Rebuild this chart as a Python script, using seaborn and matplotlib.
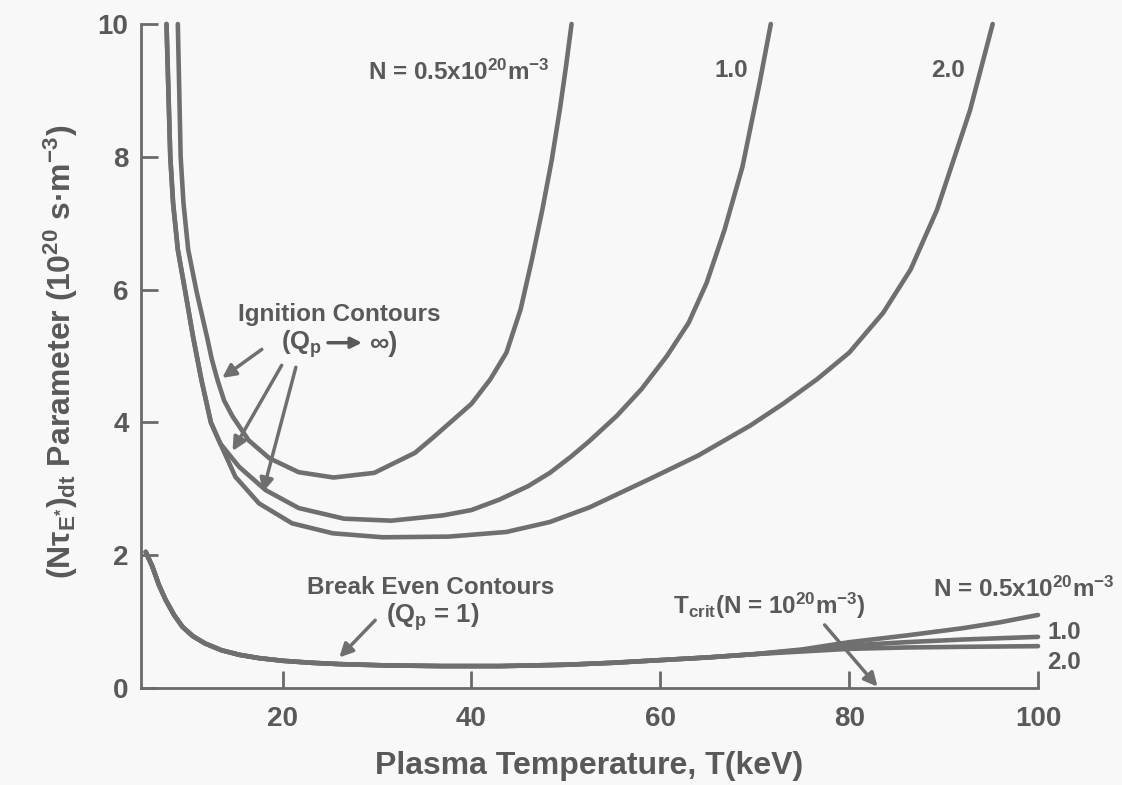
import matplotlib
matplotlib.use("Agg")
import matplotlib.pyplot as plt
import seaborn as sns
import pandas as pd

# ---------------- data ----------------
# Ignition contours, N = 0.5e20 m^-3
ign05_T = [8.9, 9.05, 9.2, 9.5, 10.0, 10.9, 12.0, 12.5, 13.1, 13.8, 14.7, 16.4,
           18.6, 21.7, 25.4, 29.7, 34.0, 36.0, 38.0, 40.0, 42.0, 43.7, 45.2,
           46.4, 47.5, 48.5, 49.4, 50.0, 50.6]
ign05_Y = [10.0, 9.0, 8.0, 7.3, 6.6, 5.96, 5.28, 4.95, 4.64, 4.33, 4.09, 3.73,
           3.46, 3.25, 3.17, 3.24, 3.54, 3.78, 4.03, 4.28, 4.65, 5.05, 5.7,
           6.45, 7.2, 7.95, 8.75, 9.35, 10.0]
# Ignition contours, N = 1.0e20 m^-3
ign10_T = [7.7, 7.9, 8.1, 8.4, 8.9, 9.7, 10.5, 11.4, 12.4, 13.4, 15.4, 18.2,
           21.7, 26.5, 31.5, 37.0, 40.0, 43.0, 46.0, 48.3, 50.5, 52.5, 55.4,
           58.0, 60.7, 63.0, 64.9, 66.8, 68.7, 70.5, 71.7]
ign10_Y = [10.0, 9.0, 8.0, 7.3, 6.6, 5.96, 5.3, 4.64, 4.0, 3.68, 3.33, 2.98,
           2.71, 2.55, 2.52, 2.6, 2.68, 2.84, 3.04, 3.24, 3.48, 3.72, 4.1,
           4.5, 5.0, 5.5, 6.1, 6.9, 7.85, 9.1, 10.0]
# Ignition contours, N = 2.0e20 m^-3
ign20_T = [7.7, 7.9, 8.1, 8.4, 8.9, 9.7, 10.5, 11.4, 12.4, 13.4, 15.0, 17.5,
           21.0, 25.3, 30.6, 37.6, 43.7, 48.3, 52.5, 58.9, 64.0, 69.5, 73.0,
           76.6, 80.0, 83.6, 86.5, 89.3, 92.8, 95.2]
ign20_Y = [10.0, 9.0, 8.0, 7.3, 6.6, 5.96, 5.3, 4.64, 4.0, 3.68, 3.18, 2.78,
           2.48, 2.33, 2.27, 2.28, 2.35, 2.5, 2.72, 3.15, 3.5, 3.95, 4.28,
           4.65, 5.05, 5.65, 6.3, 7.2, 8.7, 10.0]
# Break-even contours (Qp = 1)
be_common_T = [5.5, 6.2, 6.9, 7.6, 8.5, 9.4, 10.5, 11.8, 13.5, 15.4, 17.5, 20.0,
               23.0, 26.0, 31.0, 37.0, 43.0, 50.0, 55.0, 60.0, 65.0, 70.0]
be_common_Y = [2.05, 1.83, 1.55, 1.33, 1.1, 0.92, 0.78, 0.67, 0.57, 0.5, 0.45, 0.41,
               0.38, 0.36, 0.34, 0.33, 0.33, 0.35, 0.38, 0.42, 0.46, 0.51]
be05_T = be_common_T + [75.0, 80.0, 86.0, 92.0, 96.0, 100.0]
be05_Y = be_common_Y + [0.58, 0.69, 0.79, 0.9, 0.99, 1.1]
be10_T = be_common_T + [75.0, 80.0, 86.0, 92.0, 100.0]
be10_Y = be_common_Y + [0.57, 0.64, 0.69, 0.73, 0.77]
be20_T = be_common_T + [75.0, 80.0, 86.0, 92.0, 100.0]
be20_Y = be_common_Y + [0.55, 0.59, 0.61, 0.62, 0.63]

x_ticks = [20, 40, 60, 80, 100]
y_ticks = [0, 2, 4, 6, 8, 10]

# ---------------- style ----------------
sns.set_theme(style="ticks")
plt.rcParams["font.family"] = ["Liberation Sans", "DejaVu Sans"]
plt.rcParams["font.weight"] = "bold"
plt.rcParams["mathtext.fontset"] = "custom"
plt.rcParams["mathtext.rm"] = "Liberation Sans:bold"
plt.rcParams["mathtext.bf"] = "Liberation Sans:bold"
plt.rcParams["mathtext.it"] = "Liberation Sans:bold"
plt.rcParams["mathtext.default"] = "rm"

LINE = "#6f6f6f"
TEXT = "#595959"
AX = "#6a6a6a"
BG = "#f8f8f8"

fig = plt.figure(figsize=(11.22, 7.85), dpi=100, facecolor=BG)
ax = fig.add_axes([141 / 1122, 1 - 688 / 785, 897 / 1122, 664 / 785])
ax.set_facecolor(BG)

curves = [(ign05_T, ign05_Y), (ign10_T, ign10_Y), (ign20_T, ign20_Y),
          (be05_T, be05_Y), (be10_T, be10_Y), (be20_T, be20_Y)]
for T, Y in curves:
    df = pd.DataFrame({"T": T, "Y": Y})
    sns.lineplot(data=df, x="T", y="Y", ax=ax, color=LINE, lw=3.3,
                 sort=False, estimator=None, clip_on=False,
                 solid_capstyle="round", solid_joinstyle="round")

ax.set_xlim(5, 100)
ax.set_ylim(0, 10)
ax.set_xticks(x_ticks)
ax.set_yticks(y_ticks)
ax.set_xticklabels([str(v) for v in x_ticks])
ax.set_yticklabels([str(v) for v in y_ticks])
ax.tick_params(direction="in", length=12, width=2, color=AX,
               labelsize=20, labelcolor=TEXT)
ax.tick_params(axis="x", pad=13)
ax.tick_params(axis="y", pad=9)
for s in ["top", "right"]:
    ax.spines[s].set_visible(False)
for s in ["left", "bottom"]:
    ax.spines[s].set_color(AX)
    ax.spines[s].set_linewidth(2)

ax.set_xlabel("Plasma Temperature, T(keV)", fontsize=23, color=TEXT,
              fontweight="bold")
ax.xaxis.set_label_coords(0.5, -0.095)
ax.set_ylabel("")
fig.text(61 / 1122, 1 - 352 / 785,
         r"(Nτ$_{E^{*}}$)$_{dt}$ Parameter (10$^{20}$ s·m$^{-3}$)",
         rotation=90, ha="center", va="center", fontsize=23, color=TEXT,
         fontweight="bold")

fs = 17.5
ax.text(29.0, 9.28, r"N = 0.5x10$^{20}$m$^{-3}$", fontsize=fs, color=TEXT,
        ha="left", va="center")
ax.text(67.5, 9.3, "1.0", fontsize=fs, color=TEXT, ha="center", va="center")
ax.text(90.5, 9.3, "2.0", fontsize=fs, color=TEXT, ha="center", va="center")

ax.text(26.0, 5.62, "Ignition Contours", fontsize=fs, color=TEXT,
        ha="center", va="center")
# "(Qp ⟶ ∞)" built from two texts and a drawn arrow
ax.text(24.2, 5.18, r"(Q$_{p}$", fontsize=fs + 1, color=TEXT,
        ha="right", va="center")
ax.annotate("", xy=(28.4, 5.2), xytext=(24.8, 5.2),
            arrowprops=dict(arrowstyle="-|>", color=TEXT, lw=2.5,
                            mutation_scale=16, shrinkA=0, shrinkB=0))
ax.text(29.2, 5.18, "∞)", fontsize=fs + 2, color=TEXT,
        ha="left", va="center")

ax.text(35.7, 1.51, "Break Even Contours", fontsize=fs, color=TEXT,
        ha="center", va="center")
ax.text(35.9, 1.07, r"(Q$_{p}$ = 1)", fontsize=fs + 1, color=TEXT,
        ha="center", va="center")

ax.text(71.6, 1.23, r"T$_{crit}$(N = 10$^{20}$m$^{-3}$)", fontsize=fs,
        color=TEXT, ha="center", va="center")
ax.text(88.9, 1.48, r"N = 0.5x10$^{20}$m$^{-3}$", fontsize=fs, color=TEXT,
        ha="left", va="center", clip_on=False)
ax.text(101, 0.84, "1.0", fontsize=fs, color=TEXT, ha="left", va="center",
        clip_on=False)
ax.text(101, 0.39, "2.0", fontsize=fs, color=TEXT, ha="left", va="center",
        clip_on=False)

arrows = [((17.8, 5.1), (13.6, 4.67)),
          ((19.9, 4.86), (14.7, 3.57)),
          ((21.4, 4.83), (17.9, 2.95)),
          ((29.8, 1.02), (26.0, 0.46)),
          ((77.4, 0.95), (83.0, 0.02))]
for start, end in arrows:
    ax.annotate("", xy=end, xytext=start,
                arrowprops=dict(arrowstyle="-|>", color=LINE, lw=2.5,
                                mutation_scale=20, shrinkA=0, shrinkB=0))

fig.savefig("out.png", dpi=100, facecolor=BG)
